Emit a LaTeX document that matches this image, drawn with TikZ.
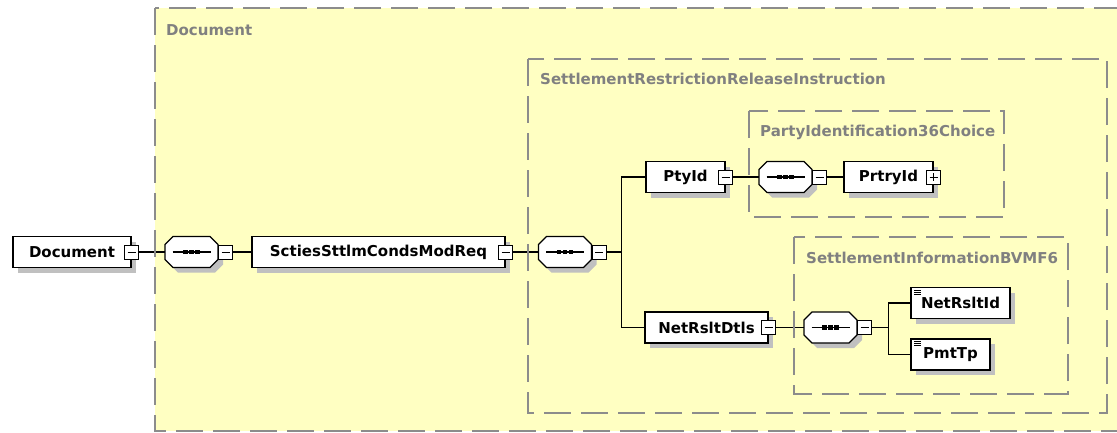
\documentclass[tikz,border=0pt]{standalone}
\usepackage{fontspec}
\setmainfont{DejaVu Sans}
\usetikzlibrary{shadows}
\definecolor{bgyellow}{RGB}{255,255,194}
\definecolor{cgrey}{RGB}{128,128,128}
\definecolor{dgrey}{RGB}{140,140,140}
\definecolor{shgrey}{RGB}{192,192,192}
\tikzset{
  lbl/.style={font=\fontsize{15}{18}\selectfont\bfseries},
  myshadow/.style={drop shadow={shadow xshift=5pt, shadow yshift=-5pt, fill=shgrey, opacity=1}},
  elem/.style={lbl, draw=black, line width=1.2pt, fill=white, minimum height=31pt, inner sep=0pt, myshadow},
  simpleelem/.style={elem, path picture={
      \foreach \k in {2.5,4.5,6.5}
        \draw[black, line width=0.8pt] ([xshift=3pt,yshift=-\k pt]path picture bounding box.north west) -- ++(7pt,0);}},
  seqbox/.style={rectangle, minimum width=53pt, minimum height=31pt, inner sep=0pt},
  octshadow/.style={fill=shgrey},
  octbody/.style={draw=black, fill=white, line width=1.2pt, line join=miter},
  expander/.style={draw=black, line width=1pt, fill=white, minimum size=14pt, inner sep=0pt,
      path picture={\draw[black, line width=1pt] ([xshift=3pt]path picture bounding box.west) -- ([xshift=-3pt]path picture bounding box.east);}},
  plusexp/.style={draw=black, line width=1pt, fill=white, minimum size=14pt, inner sep=0pt,
      path picture={\draw[black, line width=1pt] ([xshift=3pt]path picture bounding box.west) -- ([xshift=-3pt]path picture bounding box.east);
                    \draw[black, line width=1pt] ([yshift=-3pt]path picture bounding box.north) -- ([yshift=3pt]path picture bounding box.south);}},
  conn/.style={draw=black, line width=1.2pt},
  cont/.style={draw=dgrey, line width=1.4pt, dash pattern=on 27pt off 10pt},
  clabel/.style={lbl, text=cgrey, inner sep=0pt, anchor=base west}
}
\newcommand{\octpath}{(-26.5,-7.5) -- (-18.5,-15.5) -- (18.5,-15.5) -- (26.5,-7.5) -- (26.5,7.5) -- (18.5,15.5) -- (-18.5,15.5) -- (-26.5,7.5) -- cycle}
\newcommand{\seqnode}[3]{%
  \begin{scope}[shift={(#2,#3)}]
    \fill[octshadow] [shift={(5,5)}] \octpath;
    \draw[octbody] \octpath;
    \draw[black, line width=1.2pt] (-19,0) -- (19,0);
    \foreach \d in {-6,0,6} \fill[black] (\d-2.3,-2.3) rectangle (\d+2.3,2.3);
  \end{scope}
  \node[seqbox] (#1) at (#2,#3) {};}
\begin{document}
\begin{tikzpicture}[x=1pt,y=-1pt]
\useasboundingbox (0,0) rectangle (1117,432);
\clip (0,0) rectangle (1117,432);
\fill[white] (0,0) rectangle (1117,432);
\fill[bgyellow] (155,8) rectangle (1140,431);

% nodes
\node[elem, minimum width=118pt] (doc) at (72,252) {Document};
\node[expander] (docx) at (doc.east) {};
\seqnode{s1}{191.5}{252}
\node[expander, anchor=west] (s1x) at (s1.east) {};
\node[elem, minimum width=253pt] (sct) at (378.5,252) {SctiesSttlmCondsModReq};
\node[expander] (sctx) at (sct.east) {};
\seqnode{s2}{565}{252}
\node[expander, anchor=west] (s2x) at (s2.east) {};

\node[elem, minimum width=79pt] (pty) at (685.5,177) {PtyId};
\node[expander] (ptyx) at (pty.east) {};
\seqnode{s3}{785.5}{177}
\node[expander, anchor=west] (s3x) at (s3.east) {};
\node[elem, minimum width=89pt] (prtry) at (888.5,177) {PrtryId};
\node[plusexp] (prtryx) at (prtry.east) {};

\node[elem, minimum width=123pt] (net) at (706.5,327.5) {NetRsltDtls};
\node[expander] (netx) at (net.east) {};
\seqnode{s4}{830.5}{327.5}
\node[expander, anchor=west] (s4x) at (s4.east) {};
\node[simpleelem, minimum width=99pt] (netid) at (960.5,303) {NetRsltId};
\node[simpleelem, minimum width=79pt] (pmt) at (950.5,354.5) {PmtTp};

% connectors
\draw[conn] (docx.east) -- (s1.west);
\draw[conn] (s1x.east) -- (sct.west);
\draw[conn] (sctx.east) -- (s2.west);
\draw[conn] (s2x.east) -- ++(15,0) coordinate (b1) |- (pty.west);
\draw[conn] (b1) |- (net.west);
\draw[conn] (ptyx.east) -- (s3.west);
\draw[conn] (s3x.east) -- (prtry.west);
\draw[conn] (netx.east) -- (s4.west);
\draw[conn] (s4x.east) -- ++(16,0) coordinate (b2) |- (netid.west);
\draw[conn] (b2) |- (pmt.west);

% containers
\draw[cont] (155,8) rectangle (1140,431);
\draw[cont] (528,59) rectangle (1107,413);
\draw[cont] (749,111) rectangle (1004,217);
\draw[cont] (794,237) rectangle (1068,394);
\node[clabel] (lDoc) at (166,35) {Document};
\node[clabel] (lSrri) at (540,84.5) {SettlementRestrictionReleaseInstruction};
\node[clabel] (lPi) at (760,136.5) {PartyIdentification36Choice};
\node[clabel] (lSib) at (806,263.5) {SettlementInformationBVMF6};
\end{tikzpicture}
\end{document}
